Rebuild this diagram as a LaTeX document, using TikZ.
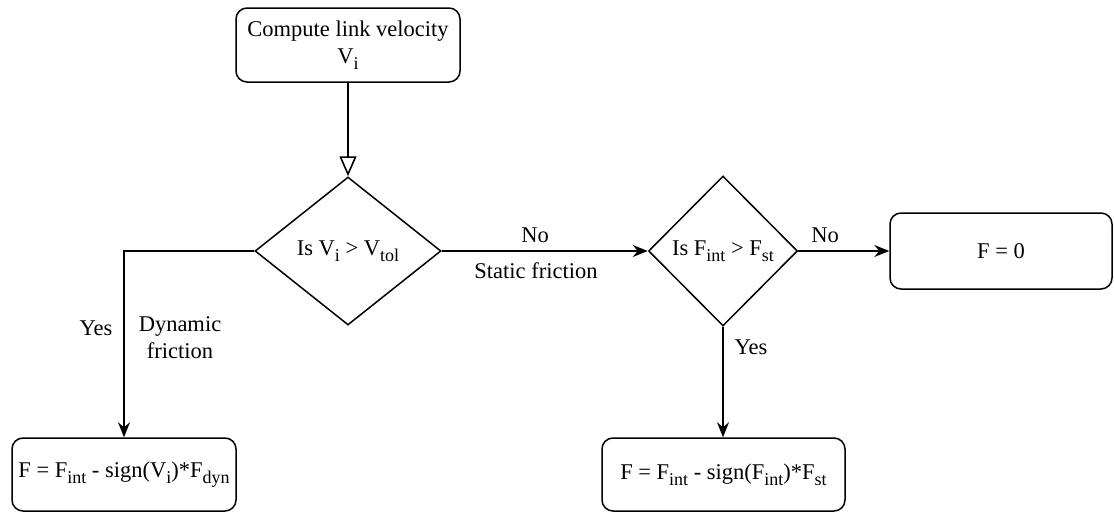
\documentclass[tikz,border=0pt]{standalone}
\usepackage{fontspec}
\setmainfont{Liberation Serif}
\usetikzlibrary{shapes.geometric,arrows.meta}
\newcommand\sbs[1]{\raisebox{-6pt}{\fontsize{18}{18}\selectfont #1}}
\begin{document}
\begin{tikzpicture}[x=1pt,y=-1pt,
  every node/.style={font=\fontsize{22.5}{27}\selectfont},
  box/.style={draw,line width=1.5pt,rounded corners=11pt,inner sep=0pt,align=center},
  dia/.style={draw,diamond,line width=1.5pt,inner sep=0pt},
  conn/.style={line width=1.6pt,-{Stealth[length=15pt,width=12pt,inset=5pt]}},
  lbl/.style={inner sep=0pt,align=center}]
\useasboundingbox (0,0) rectangle (1114,514);
\node[box,minimum width=224pt,minimum height=74pt] (top) at (348,45) {Compute link velocity\\V\sbs{i}};
\node[dia,minimum width=186pt,minimum height=148pt] (d1) at (348,251) {Is V\sbs{i} > V\sbs{tol}};
\node[dia,minimum width=149pt,minimum height=150pt] (d2) at (723,251) {Is F\sbs{int} > F\sbs{st}};
\node[box,minimum width=222pt,minimum height=76pt] (f0) at (1001,251) {F = 0};
\node[box,minimum width=224pt,minimum height=73pt] (bl) at (124,474.5) {F = F\sbs{int} - sign(V\sbs{i})*F\sbs{dyn}};
\node[box,minimum width=243pt,minimum height=73pt] (br) at (723.5,474.5) {F = F\sbs{int} - sign(F\sbs{int})*F\sbs{st}};
\draw[line width=1.6pt,-{Triangle[open,length=20pt,width=17pt]}] (top.south) -- (d1.north);
\draw[conn] (d1.west) -| (bl.north);
\draw[conn] (d1.east) -- (d2.west);
\draw[conn] (d2.east) -- (f0.west);
\draw[conn] (d2.south) -- (br.north-|d2.south);
\node[lbl] (no1) at (535,235) {No};
\node[lbl] (sf) at (536,271) {Static friction};
\node[lbl] (yes1) at (96,328) {Yes};
\node[lbl] (df) at (180,338) {Dynamic\\friction};
\node[lbl] (no2) at (825,235) {No};
\node[lbl] (yes2) at (751,347) {Yes};
\end{tikzpicture}
\end{document}
